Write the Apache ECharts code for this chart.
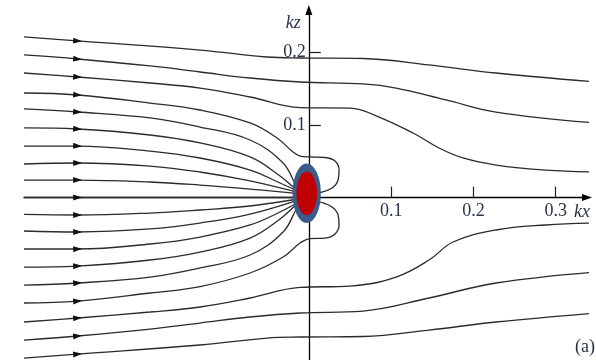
<!DOCTYPE html>
<html>
<head>
<meta charset="utf-8">
<script src="https://cdn.jsdelivr.net/npm/echarts@6/dist/echarts.min.js"></script>
<style>
html,body{margin:0;padding:0;background:#fff;}
#main{width:596px;height:360px;}
</style>
</head>
<body>
<div id="main"></div>
<script>
// Tick values on the two wavenumber axes
const kxTicks = [0.1, 0.2, 0.3];
const kzTicks = [0.1, 0.2];

// Axis extents (kx, kz)
const kxRange = [-0.3461, 0.338];
const kzRange = [-0.2241, 0.2586];

// Streamlines, as (kx, kz) pairs, upstream end first.
// Lines that pass over / under the sink
const lineT1 = [[-0.3461,0.2214],[-0.2809,0.2159],[-0.1322,0.2034],[-0.0508,0.1938],[-0.0107,0.1924],[0.0659,0.1917],[0.1461,0.1828],[0.2275,0.1717],[0.3490,0.1593]];
const lineT2 = [[-0.3461,0.1966],[-0.2809,0.1910],[-0.1929,0.1814],[-0.1322,0.1731],[-0.0714,0.1648],[-0.0107,0.1593],[0.0659,0.1566],[0.1060,0.1510],[0.1667,0.1345],[0.2275,0.1179],[0.3490,0.1028]];
const lineT3 = [[-0.3461,0.1717],[-0.2809,0.1662],[-0.1929,0.1579],[-0.1322,0.1510],[-0.0714,0.1386],[-0.0107,0.1240],[0.0501,0.1234],[0.0853,0.1110],[0.1266,0.0890],[0.1582,0.0683],[0.1874,0.0545],[0.2275,0.0448],[0.2882,0.0379],[0.3490,0.0352]];
const lineB1 = [[-0.3461,-0.2214],[-0.2809,-0.2159],[-0.1322,-0.2034],[-0.0508,-0.1938],[-0.0107,-0.1924],[0.0659,-0.1917],[0.1461,-0.1828],[0.2275,-0.1717],[0.3490,-0.1593]];
const lineB2 = [[-0.3461,-0.1966],[-0.2809,-0.1910],[-0.1929,-0.1814],[-0.1322,-0.1731],[-0.0714,-0.1648],[-0.0107,-0.1593],[0.0659,-0.1566],[0.1461,-0.1386],[0.2275,-0.1179],[0.3490,-0.1028]];
const lineB3 = [[-0.3461,-0.1717],[-0.2809,-0.1662],[-0.1929,-0.1579],[-0.1322,-0.1510],[-0.0714,-0.1386],[-0.0107,-0.1240],[0.0501,-0.1221],[0.1060,-0.1097],[0.1461,-0.0862],[0.1752,-0.0614],[0.2275,-0.0448],[0.2882,-0.0379],[0.3490,-0.0352]];

// Lines that loop round the front of the sink
const lineU4 = [[-0.3461,0.1441],[-0.2809,0.1414],[-0.1929,0.1303],[-0.1322,0.1207],[-0.0714,0.1028],[-0.0386,0.0821],[-0.0192,0.0628],[-0.0107,0.0572],[0.0015,0.0559],[0.0197,0.0552],[0.0318,0.0503],[0.0367,0.0379],[0.0355,0.0241],[0.0282,0.0131],[0.0136,0.0069],[-0.0010,0.0048]];
const lineL4 = [[-0.3461,-0.1455],[-0.2809,-0.1428],[-0.1929,-0.1317],[-0.1322,-0.1228],[-0.0714,-0.1041],[-0.0313,-0.0821],[-0.0107,-0.0628],[0.0015,-0.0566],[0.0197,-0.0559],[0.0318,-0.0503],[0.0367,-0.0379],[0.0355,-0.0241],[0.0282,-0.0131],[0.0136,-0.0062],[-0.0010,-0.0021]];

// Lines drawn straight into the sink
const lineU5 = [[-0.3461,0.1221],[-0.2809,0.1179],[-0.1929,0.1097],[-0.1322,0.0972],[-0.0714,0.0793],[-0.0313,0.0476],[-0.0143,0.0145],[-0.0058,0.0048]];
const lineU6 = [[-0.3461,0.0959],[-0.2809,0.0945],[-0.1929,0.0862],[-0.1322,0.0752],[-0.0714,0.0559],[-0.0350,0.0297],[-0.0143,0.0103],[-0.0058,0.0048]];
const lineU7 = [[-0.3461,0.0710],[-0.2809,0.0710],[-0.1929,0.0641],[-0.1322,0.0545],[-0.0714,0.0379],[-0.0350,0.0200],[-0.0058,0.0048]];
const lineU8 = [[-0.3461,0.0462],[-0.2809,0.0476],[-0.1929,0.0434],[-0.1322,0.0352],[-0.0714,0.0228],[-0.0058,0.0048]];
const lineU9 = [[-0.3461,0.0241],[-0.2809,0.0241],[-0.1929,0.0214],[-0.1322,0.0172],[-0.0714,0.0117],[-0.0058,0.0048]];
const lineC  = [[-0.3461,0],[-0.2809,0],[-0.1500,0],[-0.0050,0]];
const lineL9 = [[-0.3461,-0.0234],[-0.2809,-0.0241],[-0.1929,-0.0214],[-0.1322,-0.0172],[-0.0714,-0.0117],[-0.0058,-0.0007]];
const lineL8 = [[-0.3461,-0.0462],[-0.2809,-0.0476],[-0.1929,-0.0434],[-0.1322,-0.0352],[-0.0714,-0.0228],[-0.0058,-0.0007]];
const lineL7 = [[-0.3461,-0.0710],[-0.2809,-0.0710],[-0.1929,-0.0641],[-0.1322,-0.0545],[-0.0714,-0.0379],[-0.0350,-0.0200],[-0.0058,-0.0021]];
const lineL6 = [[-0.3461,-0.0959],[-0.2809,-0.0945],[-0.1929,-0.0862],[-0.1322,-0.0752],[-0.0714,-0.0559],[-0.0350,-0.0297],[-0.0143,-0.0090],[-0.0058,-0.0021]];
const lineL5 = [[-0.3461,-0.1207],[-0.2809,-0.1179],[-0.1929,-0.1097],[-0.1322,-0.0972],[-0.0714,-0.0793],[-0.0313,-0.0476],[-0.0143,-0.0145],[-0.0058,-0.0021]];

// The sink itself (centre, kx / kz)
const sinkCentre = [-0.0026, 0.0058];

const streamlines = [lineT1, lineT2, lineT3, lineU4, lineU5, lineU6, lineU7, lineU8, lineU9, lineC,
                     lineL9, lineL8, lineL7, lineL6, lineL5, lineL4, lineB3, lineB2, lineB1];

const serifFont = '"Liberation Serif", "DejaVu Serif", serif';
const textColor = '#28324a';

const chart = echarts.init(document.getElementById('main'), null, { renderer: 'canvas' });

function buildOption(arrowData, xOffset, yOffset) {
  return {
    animation: false,
    backgroundColor: '#ffffff',
    grid: { left: 24, right: 9, top: 10, bottom: 0, containLabel: false, outerBoundsMode: 'none' },
    xAxis: {
      type: 'value', min: kxRange[0], max: kxRange[1], position: 'bottom', offset: xOffset,
      splitLine: { show: false },
      axisLine: { onZero: false, lineStyle: { color: '#000', width: 1.3 },
                  symbol: ['none', 'triangle'], symbolSize: [7, 10] },
      axisTick: { inside: true, length: 11, lineStyle: { color: '#222', width: 1.2 }, customValues: kxTicks },
      axisLabel: { customValues: kxTicks, margin: 5, fontFamily: serifFont, fontSize: 18, color: textColor,
                   formatter: v => v.toFixed(1) },
      name: 'kx', nameLocation: 'end', nameGap: -13, nameMoveOverlap: false,
      nameTextStyle: { fontFamily: serifFont, fontStyle: 'italic', fontSize: 18, color: textColor,
                       align: 'left', verticalAlign: 'top', padding: [6, 0, 0, 0] }
    },
    yAxis: {
      type: 'value', min: kzRange[0], max: kzRange[1], position: 'left', offset: yOffset,
      splitLine: { show: false },
      axisLine: { onZero: false, lineStyle: { color: '#000', width: 1.3 },
                  symbol: ['none', 'triangle'], symbolSize: [7, 10] },
      axisTick: { inside: true, length: 12, lineStyle: { color: '#222', width: 1.2 }, customValues: kzTicks },
      axisLabel: { customValues: kzTicks, margin: 3, fontFamily: serifFont, fontSize: 18, color: textColor,
                   formatter: v => v.toFixed(1) },
      name: 'kz', nameLocation: 'end', nameGap: -13, nameMoveOverlap: false,
      nameTextStyle: { fontFamily: serifFont, fontStyle: 'italic', fontSize: 18, color: textColor,
                       align: 'right', verticalAlign: 'middle', padding: [0, 8, 0, 0] }
    },
    graphic: [{
      type: 'text', right: 1, bottom: 4,
      style: { text: '(a)', font: '18px ' + serifFont, fill: textColor }
    }],
    series: [
      ...streamlines.map(pts => ({
        type: 'line', data: pts, smooth: 0.4, showSymbol: false, clip: false, z: 2,
        lineStyle: { color: '#2b2b2b', width: 1.3 }, silent: true
      })),
      {
        type: 'scatter', data: arrowData, symbol: 'triangle', symbolSize: [6, 9], z: 3,
        itemStyle: { color: '#111', opacity: 1 }, silent: true
      },
      {
        type: 'scatter', data: [sinkCentre], symbol: 'circle', symbolSize: [24.5, 51.5], z: 5,
        itemStyle: { color: '#c00000', borderColor: '#3b5b8c', borderWidth: 5.5, opacity: 1 }, silent: true
      }
    ]
  };
}

chart.setOption(buildOption([], 0, 0));

// Move both axes onto the origin: offsets measured through the grid's own scales
const origin = chart.convertToPixel({ gridIndex: 0 }, [0, 0]);
const corner = chart.convertToPixel({ gridIndex: 0 }, [kxRange[0], kzRange[0]]);
const xOffset = -(corner[1] - origin[1]);
const yOffset = -(origin[0] - corner[0]);

// Arrowheads sit on the second point of each line, turned along the local direction
const arrows = streamlines.map(pts => {
  const a = chart.convertToPixel({ gridIndex: 0 }, pts[0]);
  const b = chart.convertToPixel({ gridIndex: 0 }, pts[2]);
  const ang = Math.atan2(-(b[1] - a[1]), b[0] - a[0]) * 180 / Math.PI;
  return { value: pts[1], symbolRotate: ang - 90 };
});
chart.setOption(buildOption(arrows, xOffset, yOffset));
</script>
</body>
</html>
